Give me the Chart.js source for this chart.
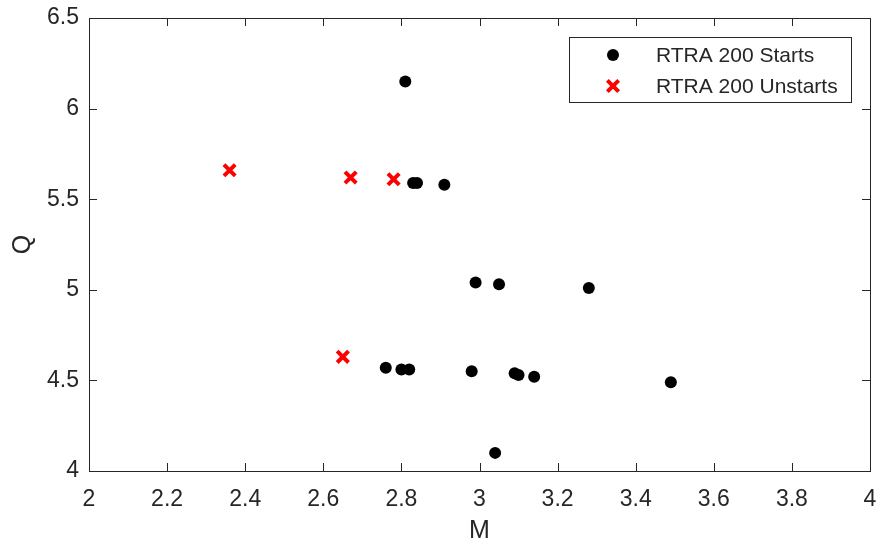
<!DOCTYPE html>
<html>
<head>
<meta charset="utf-8">
<script src="https://cdn.jsdelivr.net/npm/chart.js@4/dist/chart.umd.min.js"></script>
<style>
  html, body { margin: 0; padding: 0; background: #fff; }
  #wrap { width: 876px; height: 544px; }
</style>
</head>
<body>
<div id="wrap"><canvas id="chart" width="876" height="544"></canvas></div>
<script>
// data
const startsM = [2.81, 2.83, 2.84, 2.91, 2.99, 3.05, 3.28, 2.76, 2.80, 2.82, 2.98, 3.09, 3.10, 3.14, 3.49, 3.04];
const startsQ = [6.15, 5.59, 5.59, 5.58, 5.04, 5.03, 5.01, 4.57, 4.56, 4.56, 4.55, 4.54, 4.53, 4.52, 4.49, 4.10];
const unstartsM = [2.36, 2.67, 2.78, 2.65];
const unstartsQ = [5.66, 5.62, 5.61, 4.63];

const xTicks = [2, 2.2, 2.4, 2.6, 2.8, 3, 3.2, 3.4, 3.6, 3.8, 4];
const yTicks = [4, 4.5, 5, 5.5, 6, 6.5];
const seriesNames = ["RTRA 200 Starts", "RTRA 200 Unstarts"];

const FONT = "'Liberation Sans', Arial, Helvetica, sans-serif";
const INK = "#262626";

function toPoints(xs, ys) {
    return xs.map((x, i) => ({ x: x, y: ys[i] }));
}

// box + inward ticks on all four sides, MATLAB style
const framePlugin = {
    id: "frame",
    afterDatasetsDraw(chart) {
        const ctx = chart.ctx;
        const a = chart.chartArea;
        const xs = chart.scales.x, ys = chart.scales.y;
        const len = 8;
        ctx.save();
        ctx.strokeStyle = INK;
        ctx.lineWidth = 1;
        ctx.beginPath();
        xTicks.forEach(v => {
            const px = Math.round(xs.getPixelForValue(v)) + 0.5;
            ctx.moveTo(px, a.bottom); ctx.lineTo(px, a.bottom - len);
            ctx.moveTo(px, a.top); ctx.lineTo(px, a.top + len);
        });
        yTicks.forEach(v => {
            const py = Math.round(ys.getPixelForValue(v)) + 0.5;
            ctx.moveTo(a.left, py); ctx.lineTo(a.left + len, py);
            ctx.moveTo(a.right, py); ctx.lineTo(a.right - len, py);
        });
        ctx.stroke();
        ctx.strokeRect(Math.round(a.left) + 0.5, Math.round(a.top) + 0.5,
            Math.round(a.right - a.left), Math.round(a.bottom - a.top));
        ctx.restore();
    }
};

// legend box in the upper right corner
const legendPlugin = {
    id: "boxLegend",
    afterDraw(chart) {
        const ctx = chart.ctx;
        const a = chart.chartArea;
        const w = 282, h = 65;
        const x0 = a.right - 19 - w, y0 = a.top + 19;
        ctx.save();
        ctx.fillStyle = "#fff";
        ctx.fillRect(x0, y0, w, h);
        ctx.strokeStyle = INK;
        ctx.lineWidth = 1;
        ctx.strokeRect(x0 + 0.5, y0 + 0.5, w, h);
        ctx.font = "21px " + FONT;
        ctx.textBaseline = "middle";
        const rows = [y0 + 18, y0 + 49];
        const mx = x0 + 44;
        chart.data.datasets.forEach((ds, i) => {
            const cy = rows[i];
            ctx.fillStyle = ds.backgroundColor;
            ctx.strokeStyle = ds.borderColor;
            ctx.lineWidth = ds.borderWidth;
            Chart.helpers.drawPoint(ctx, {
                pointStyle: ds.pointStyle,
                radius: ds.pointRadius,
                borderWidth: ds.borderWidth,
                rotation: 0
            }, mx, cy);
            ctx.fillStyle = INK;
            ctx.fillText(seriesNames[i], x0 + 87, cy + 1);
        });
        ctx.restore();
    }
};

new Chart(document.getElementById("chart"), {
    type: "scatter",
    data: {
        datasets: [{
            label: seriesNames[0],
            data: toPoints(startsM, startsQ),
            pointStyle: "circle",
            pointRadius: 6,
            backgroundColor: "#000",
            borderColor: "#000",
            borderWidth: 0
        }, {
            label: seriesNames[1],
            data: toPoints(unstartsM, unstartsQ),
            pointStyle: "crossRot",
            pointRadius: 8,
            backgroundColor: "#ff0000",
            borderColor: "#ff0000",
            borderWidth: 4
        }]
    },
    options: {
        responsive: false,
        animation: false,
        layout: { autoPadding: false, padding: { left: 0, right: 6, top: 18, bottom: 0 } },
        plugins: {
            legend: { display: false },
            tooltip: { enabled: false }
        },
        scales: {
            x: {
                type: "linear",
                min: 2,
                max: 4,
                afterBuildTicks: s => { s.ticks = xTicks.map(v => ({ value: v })); },
                afterFit: s => { s.height = 73; s.paddingLeft = 0; s.paddingRight = 0; },
                grid: { display: false, drawTicks: false },
                border: { display: false },
                ticks: {
                    color: INK,
                    padding: 15,
                    maxRotation: 0,
                    font: { family: FONT, size: 23 },
                    callback: v => String(v)
                },
                title: {
                    display: true,
                    text: "M",
                    color: INK,
                    font: { family: FONT, size: 25, lineHeight: 1.0 },
                    padding: { top: 0, bottom: 0 }
                }
            },
            y: {
                type: "linear",
                min: 4,
                max: 6.5,
                afterBuildTicks: s => { s.ticks = yTicks.map(v => ({ value: v })); },
                afterFit: s => { s.width = 89; s.paddingTop = 0; s.paddingBottom = 0; },
                grid: { display: false, drawTicks: false },
                border: { display: false },
                ticks: {
                    color: INK,
                    padding: 10,
                    font: { family: FONT, size: 23 },
                    callback: v => String(v)
                },
                title: {
                    display: true,
                    text: "Q",
                    color: INK,
                    font: { family: FONT, size: 25 },
                    padding: { top: 8, bottom: 0 }
                }
            }
        }
    },
    plugins: [framePlugin, legendPlugin]
});
</script>
</body>
</html>
